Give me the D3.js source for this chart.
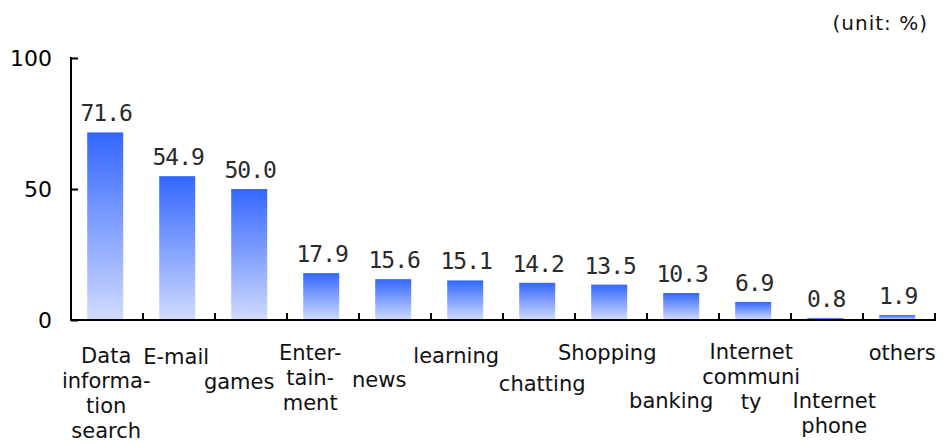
<!DOCTYPE html>
<html>
<head>
<meta charset="utf-8">
<script src="https://cdn.jsdelivr.net/npm/d3@7"></script>
<style>
  html, body { margin: 0; padding: 0; background: #fff; }
  svg { display: block; }
</style>
</head>
<body>
<svg id="chart" width="952" height="443"></svg>
<script>
// Usage share by purpose (unit: %)
const categories = [
  ["Data", "informa-", "tion", "search"],
  ["E-mail"],
  ["games"],
  ["Enter-", "tain-", "ment"],
  ["news"],
  ["learning"],
  ["chatting"],
  ["Shopping"],
  ["banking"],
  ["Internet", "communi", "ty"],
  ["Internet", "phone"],
  ["others"]
];
const values = [71.6, 54.9, 50.0, 17.9, 15.6, 15.1, 14.2, 13.5, 10.3, 6.9, 0.8, 1.9];
const yTicks = [0, 50, 100];
const unitLabel = "(unit: %)";

// Staggered placement of category labels under the axis: [dx, first baseline]
const labelLayout = [
  [1, 363], [-1, 364], [-10, 389], [-11, 360], [-14, 387], [-9, 363],
  [5, 391], [-2, 360], [-10, 408], [-2, 359], [9, 408], [5, 360]
];

const svg = d3.select("#chart");
const margin = { left: 71, right: 17, top: 58, bottom: 123 };
const W = 952, H = 443;

const x = d3.scaleBand()
  .domain(d3.range(values.length))
  .range([margin.left, W - margin.right])
  .paddingInner(0.5)
  .paddingOuter(0.25)
  .align(0.45);

const y = d3.scaleLinear().domain([0, 100]).range([H - margin.bottom, margin.top]);

// Vertical gradient for the bars
const defs = svg.append("defs");
const grad = defs.append("linearGradient")
  .attr("id", "barGrad")
  .attr("x1", 0).attr("y1", 0).attr("x2", 0).attr("y2", 1);
grad.append("stop").attr("offset", "0%").attr("stop-color", "#3366ff");
grad.append("stop").attr("offset", "100%").attr("stop-color", "#d0dbff");

// Bars
svg.append("g").selectAll("rect")
  .data(values)
  .join("rect")
  .attr("x", (d, i) => x(i))
  .attr("y", d => y(d))
  .attr("width", x.bandwidth())
  .attr("height", d => y(0) - y(d))
  .attr("fill", "url(#barGrad)");

// Value labels
svg.append("g").selectAll("text")
  .data(values)
  .join("text")
  .attr("x", (d, i) => x(i) + x.bandwidth() / 2 + 1)
  .attr("y", d => Math.min(y(d) - 11, y(0) - 9))
  .attr("text-anchor", "middle")
  .attr("font-family", "DejaVu Sans Mono, monospace")
  .attr("font-size", 23)
  .attr("letter-spacing", -1)
  .attr("fill", "#2a2a2a")
  .text(d => d.toFixed(1));

// Y axis
const yAxis = d3.axisLeft(y).tickValues(yTicks).tickSize(-7).tickPadding(19);
const gy = svg.append("g")
  .attr("transform", `translate(${margin.left},0)`)
  .call(yAxis);
gy.select(".domain").attr("stroke", "#000").attr("stroke-width", 2)
  .attr("d", `M0,${y(100) - 1}V${y(0) + 1}`);
gy.selectAll(".tick line").attr("stroke", "#000").attr("stroke-width", 2);
gy.selectAll(".tick text")
  .attr("font-family", "DejaVu Sans, sans-serif")
  .attr("font-size", 22)
  .attr("fill", "#000");

// X axis: boundary ticks pointing up into the plot
const boundaries = d3.range(values.length + 1).map(i => margin.left + i * x.step());
const gx = svg.append("g");
gx.append("line")
  .attr("x1", margin.left - 1).attr("x2", boundaries[boundaries.length - 1] + 1)
  .attr("y1", y(0)).attr("y2", y(0))
  .attr("stroke", "#000").attr("stroke-width", 2);
gx.selectAll("line.tick")
  .data(boundaries)
  .join("line")
  .attr("class", "tick")
  .attr("x1", d => d).attr("x2", d => d)
  .attr("y1", y(0)).attr("y2", y(0) - 7)
  .attr("stroke", "#000").attr("stroke-width", 2);

// Category labels
const cat = svg.append("g")
  .attr("font-family", "DejaVu Sans, sans-serif")
  .attr("font-size", 21)
  .attr("fill", "#111")
  .attr("text-anchor", "middle");
categories.forEach((lines, i) => {
  const [dx, top] = labelLayout[i];
  const cx = x(i) + x.bandwidth() / 2 + dx;
  const t = cat.append("text").attr("x", cx).attr("y", top);
  lines.forEach((ln, k) => {
    t.append("tspan")
      .attr("x", cx)
      .attr("y", top + k * 25)
      .text(ln);
  });
});

// Unit note
svg.append("text")
  .attr("x", 928).attr("y", 30)
  .attr("text-anchor", "end")
  .attr("font-family", "DejaVu Sans, sans-serif")
  .attr("font-size", 20)
  .attr("letter-spacing", 1)
  .attr("fill", "#111")
  .text(unitLabel);
</script>
</body>
</html>
